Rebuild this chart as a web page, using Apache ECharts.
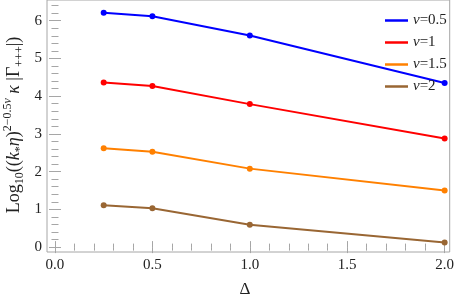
<!DOCTYPE html>
<html><head><meta charset="utf-8">
<script src="https://cdn.jsdelivr.net/npm/echarts@6/dist/echarts.min.js"></script>
<style>html,body{margin:0;padding:0;background:#fff}#c{width:457px;height:305px}</style>
</head><body><div id="c"></div>
<script>
var deltas = [0.25, 0.5, 1.0, 2.0];
var nu05 = [6.21, 6.12, 5.61, 4.35];
var nu1 = [4.36, 4.27, 3.79, 2.88];
var nu15 = [2.62, 2.53, 2.08, 1.50];
var nu2 = [1.11, 1.03, 0.59, 0.12];
var seriesNames = ['ν=0.5', 'ν=1', 'ν=1.5', 'ν=2'];
var xTicks = [0, 0.5, 1.0, 1.5, 2.0];
var yTicks = [0, 1, 2, 3, 4, 5, 6];
var xMinor = [0.1,0.2,0.3,0.4,0.6,0.7,0.8,0.9,1.1,1.2,1.3,1.4,1.6,1.7,1.8,1.9];
var yMinor = [0.2,0.4,0.6,0.8,1.2,1.4,1.6,1.8,2.2,2.4,2.6,2.8,3.2,3.4,3.6,3.8,4.2,4.4,4.6,4.8,5.2,5.4,5.6,5.8,6.2,6.4];

var colors = ['#0000ff', '#ff0000', '#ff8000', '#996633'];
var FONT = 'Liberation Serif';
var XMIN = -0.041, XMAX = 2.026, YMIN = -0.13, YMAX = 6.55;
var frameColor = '#a6a6a6';

function pairs(ys){ return deltas.map(function(d,i){ return [d, ys[i]]; }); }
var allData = [nu05, nu1, nu15, nu2];

function xAx(pos, vals, len, labels){
  return {type:'value', min:XMIN, max:XMAX, position:pos,
    axisLine:{show:false}, splitLine:{show:false},
    axisTick:{show:true, inside:true, length:len, customValues:vals, lineStyle:{color:frameColor, width:1}},
    axisLabel:{show:!!labels, customValues:vals, margin:6, fontFamily:FONT, fontSize:15, color:'#222',
      formatter:function(v){return v.toFixed(1);}}};
}
function yAx(pos, vals, len, labels){
  return {type:'value', min:YMIN, max:YMAX, position:pos,
    axisLine:{show:false}, splitLine:{show:false},
    axisTick:{show:true, inside:true, length:len, customValues:vals, lineStyle:{color:frameColor, width:1}},
    axisLabel:{show:!!labels, customValues:vals, margin:5, fontFamily:FONT, fontSize:15, color:'#222',
      formatter:function(v){return String(Math.round(v));}}};
}

var chart = echarts.init(document.getElementById('c'), null, {renderer:'canvas'});
chart.setOption({
  animation:false,
  grid:{left:47, right:6, top:0, bottom:53, show:true, borderColor:frameColor, borderWidth:1, backgroundColor:'transparent'},
  xAxis:[xAx('bottom', xTicks, 6, true), xAx('bottom', xMinor, 3.5), xAx('top', xTicks, 6), xAx('top', xMinor, 3.5)],
  yAxis:[yAx('left', yTicks, 6, true), yAx('left', yMinor, 3.5), yAx('right', yTicks, 6), yAx('right', yMinor, 3.5)],
  legend:{orient:'vertical', left:380, top:8, itemWidth:23, itemHeight:2.5, itemGap:7, icon:'rect',
    textStyle:{fontFamily:FONT, fontSize:15, color:'#222', rich:{i:{fontFamily:FONT, fontSize:15, fontStyle:'italic', color:'#222'}}},
    formatter:function(n){ return '{i|ν}' + n.slice(1); },
    data:seriesNames},
  series: allData.map(function(ys,i){
    return {name:seriesNames[i], type:'line', data:pairs(ys), xAxisIndex:0, yAxisIndex:0,
      symbol:'circle', symbolSize:6, color:colors[i],
      lineStyle:{width:2, color:colors[i]}, itemStyle:{color:colors[i]}};
  }),
  graphic:[
    {type:'text', x:14, y:125, rotation:Math.PI/2, style:{
      text:'{n|Log}{sub|10}{n|((}{i|k}{sub|*}{i|η}{n|)}{sup|2−0.5}{supi|ν}{i| κ}{n| |Γ}{sub|+++}{n||)}',
      align:'center', verticalAlign:'middle', fill:'#222',
      rich:{
        n:{fontFamily:FONT, fontSize:18, lineHeight:24, verticalAlign:'middle', fill:'#222'},
        i:{fontFamily:FONT, fontSize:18, fontStyle:'italic', lineHeight:24, verticalAlign:'middle', fill:'#222'},
        sub:{fontFamily:FONT, fontSize:12, lineHeight:12, verticalAlign:'bottom', fill:'#222'},
        sup:{fontFamily:FONT, fontSize:12, lineHeight:12, verticalAlign:'top', fill:'#222'},
        supi:{fontFamily:FONT, fontSize:12, fontStyle:'italic', lineHeight:12, verticalAlign:'top', fill:'#222'}
      }}},
    {type:'text', x:245, y:290, style:{text:'Δ', fontFamily:FONT, fontSize:17, fill:'#222', align:'center', verticalAlign:'middle'}}
  ]
});
</script></body></html>
